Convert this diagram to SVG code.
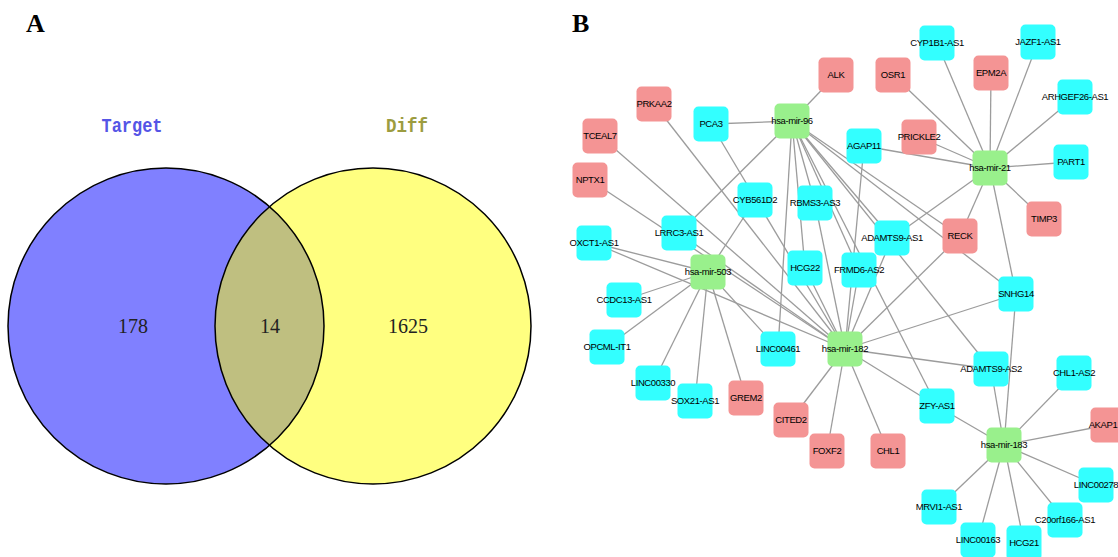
<svg xmlns="http://www.w3.org/2000/svg" width="1118" height="557" viewBox="0 0 1118 557">
<style>
.panel{font-family:"Liberation Serif","Times New Roman",serif;font-weight:bold;font-size:26px;fill:#000}
.num{font-family:"Liberation Serif","Times New Roman",serif;font-size:20px;fill:#222;text-anchor:middle}
.setlbl{font-family:"Liberation Mono","Courier New",monospace;font-size:20px;font-weight:bold;text-anchor:middle}
.edge line{stroke:#9c9c9c;stroke-width:1.3}
.node rect{width:35px;height:35px}
.lnc rect{fill:#33ffff}
.mrna rect{fill:#f49494}
.mir rect{fill:#99f08c}
.node text{font-family:"Liberation Sans",Arial,sans-serif;font-size:9.5px;letter-spacing:-0.4px;fill:#000;text-anchor:middle}
</style>
<rect width="1118" height="557" fill="#ffffff"/>

<!-- Panel A -->
<text class="panel" x="26" y="32">A</text>
<g id="venn">
<circle cx="166" cy="326" r="158" fill="#8080ff"/>
<circle cx="373" cy="326" r="158" fill="#ffff80"/>
<path d="M269.5 206.6 A158 158 0 0 1 269.5 445.4 A158 158 0 0 1 269.5 206.6 Z" fill="#bfbf80"/>
<circle cx="166" cy="326" r="158" fill="none" stroke="#000" stroke-width="1.5"/>
<circle cx="373" cy="326" r="158" fill="none" stroke="#000" stroke-width="1.5"/>
<text class="setlbl" x="132" y="132" fill="#5555e6" textLength="61" lengthAdjust="spacingAndGlyphs">Target</text>
<text class="setlbl" x="407" y="132" fill="#9c9c40" textLength="42" lengthAdjust="spacingAndGlyphs">Diff</text>
<text class="num" x="133" y="333">178</text>
<text class="num" x="270" y="333">14</text>
<text class="num" x="408" y="333">1625</text>
</g>

<!-- Panel B -->
<text class="panel" x="572" y="32">B</text>
<g id="connectors" class="edge">
<!-- hsa-mir-96 -->
<line x1="792" y1="121" x2="836" y2="75"/>
<line x1="792" y1="121" x2="711" y2="124"/>
<line x1="792" y1="121" x2="679" y2="233"/>
<line x1="792" y1="121" x2="778" y2="349"/>
<line x1="792" y1="121" x2="805" y2="268"/>
<line x1="792" y1="121" x2="815" y2="203"/>
<line x1="792" y1="121" x2="859" y2="270"/>
<line x1="792" y1="121" x2="937" y2="406"/>
<line x1="792" y1="121" x2="892" y2="238"/>
<line x1="792" y1="121" x2="991" y2="369"/>
<line x1="792" y1="121" x2="960" y2="236"/>
<line x1="792" y1="121" x2="1016" y2="294"/>
<!-- hsa-mir-21 -->
<line x1="990" y1="168" x2="937" y2="43"/>
<line x1="990" y1="168" x2="1038" y2="42"/>
<line x1="990" y1="168" x2="991" y2="73"/>
<line x1="990" y1="168" x2="893" y2="75"/>
<line x1="990" y1="168" x2="1075" y2="97"/>
<line x1="990" y1="168" x2="919" y2="137"/>
<line x1="990" y1="168" x2="864" y2="146"/>
<line x1="990" y1="168" x2="1071" y2="162"/>
<line x1="990" y1="168" x2="1044" y2="219"/>
<line x1="990" y1="168" x2="960" y2="236"/>
<line x1="990" y1="168" x2="1016" y2="294"/>
<line x1="990" y1="168" x2="892" y2="238"/>
<!-- hsa-mir-503 -->
<line x1="708" y1="272" x2="594" y2="243"/>
<line x1="708" y1="272" x2="624" y2="300"/>
<line x1="708" y1="272" x2="607" y2="347"/>
<line x1="708" y1="272" x2="653" y2="383"/>
<line x1="708" y1="272" x2="695" y2="401"/>
<line x1="708" y1="272" x2="746" y2="398"/>
<line x1="708" y1="272" x2="778" y2="349"/>
<line x1="708" y1="272" x2="755" y2="200"/>
<!-- hsa-mir-182 -->
<line x1="845" y1="349" x2="654" y2="104"/>
<line x1="845" y1="349" x2="600" y2="136"/>
<line x1="845" y1="349" x2="590" y2="180"/>
<line x1="845" y1="349" x2="679" y2="233"/>
<line x1="845" y1="349" x2="594" y2="243"/>
<line x1="845" y1="349" x2="711" y2="124"/>
<line x1="845" y1="349" x2="815" y2="203"/>
<line x1="845" y1="349" x2="805" y2="268"/>
<line x1="845" y1="349" x2="859" y2="270"/>
<line x1="845" y1="349" x2="864" y2="146"/>
<line x1="845" y1="349" x2="892" y2="238"/>
<line x1="845" y1="349" x2="960" y2="236"/>
<line x1="845" y1="349" x2="1016" y2="294"/>
<line x1="845" y1="349" x2="991" y2="369"/>
<line x1="845" y1="349" x2="937" y2="406"/>
<line x1="845" y1="349" x2="888" y2="451"/>
<line x1="845" y1="349" x2="827" y2="451"/>
<line x1="845" y1="349" x2="791" y2="420"/>
<!-- hsa-mir-183 -->
<line x1="1004" y1="445" x2="937" y2="406"/>
<line x1="1004" y1="445" x2="991" y2="369"/>
<line x1="1004" y1="445" x2="1016" y2="294"/>
<line x1="1004" y1="445" x2="1074" y2="373"/>
<line x1="1004" y1="445" x2="1108" y2="425"/>
<line x1="1004" y1="445" x2="1096" y2="485"/>
<line x1="1004" y1="445" x2="1065" y2="520"/>
<line x1="1004" y1="445" x2="1024" y2="543"/>
<line x1="1004" y1="445" x2="978" y2="540"/>
<line x1="1004" y1="445" x2="939" y2="507"/>
</g>

<!-- miRNA nodes -->
<g id="hsa-mir-96" class="node mir"><rect x="774.5" y="103.5" rx="5"/><text x="792" y="124">hsa-mir-96</text></g>
<g id="hsa-mir-21" class="node mir"><rect x="972.5" y="150.5" rx="5"/><text x="990" y="171">hsa-mir-21</text></g>
<g id="hsa-mir-503" class="node mir"><rect x="690.5" y="254.5" rx="5"/><text x="708" y="275">hsa-mir-503</text></g>
<g id="hsa-mir-182" class="node mir"><rect x="827.5" y="331.5" rx="5"/><text x="845" y="352">hsa-mir-182</text></g>
<g id="hsa-mir-183" class="node mir"><rect x="986.5" y="427.5" rx="5"/><text x="1004" y="448">hsa-mir-183</text></g>

<!-- lncRNA nodes -->
<g id="PCA3" class="node lnc"><rect x="693.5" y="106.5" rx="5"/><text x="711" y="127">PCA3</text></g>
<g id="CYP1B1-AS1" class="node lnc"><rect x="919.5" y="25.5" rx="5"/><text x="937" y="46">CYP1B1-AS1</text></g>
<g id="JAZF1-AS1" class="node lnc"><rect x="1020.5" y="24.5" rx="5"/><text x="1038" y="45">JAZF1-AS1</text></g>
<g id="ARHGEF26-AS1" class="node lnc"><rect x="1057.5" y="79.5" rx="5"/><text x="1075" y="100">ARHGEF26-AS1</text></g>
<g id="AGAP11" class="node lnc"><rect x="846.5" y="128.5" rx="5"/><text x="864" y="149">AGAP11</text></g>
<g id="PART1" class="node lnc"><rect x="1053.5" y="144.5" rx="5"/><text x="1071" y="165">PART1</text></g>
<g id="CYB561D2" class="node lnc"><rect x="737.5" y="182.5" rx="5"/><text x="755" y="203">CYB561D2</text></g>
<g id="RBMS3-AS3" class="node lnc"><rect x="797.5" y="185.5" rx="5"/><text x="815" y="206">RBMS3-AS3</text></g>
<g id="LRRC3-AS1" class="node lnc"><rect x="661.5" y="215.5" rx="5"/><text x="679" y="236">LRRC3-AS1</text></g>
<g id="OXCT1-AS1" class="node lnc"><rect x="576.5" y="225.5" rx="5"/><text x="594" y="246">OXCT1-AS1</text></g>
<g id="ADAMTS9-AS1" class="node lnc"><rect x="874.5" y="220.5" rx="5"/><text x="892" y="241">ADAMTS9-AS1</text></g>
<g id="HCG22" class="node lnc"><rect x="787.5" y="250.5" rx="5"/><text x="805" y="271">HCG22</text></g>
<g id="FRMD6-AS2" class="node lnc"><rect x="841.5" y="252.5" rx="5"/><text x="859" y="273">FRMD6-AS2</text></g>
<g id="SNHG14" class="node lnc"><rect x="998.5" y="276.5" rx="5"/><text x="1016" y="297">SNHG14</text></g>
<g id="CCDC13-AS1" class="node lnc"><rect x="606.5" y="282.5" rx="5"/><text x="624" y="303">CCDC13-AS1</text></g>
<g id="OPCML-IT1" class="node lnc"><rect x="589.5" y="329.5" rx="5"/><text x="607" y="350">OPCML-IT1</text></g>
<g id="LINC00461" class="node lnc"><rect x="760.5" y="331.5" rx="5"/><text x="778" y="352">LINC00461</text></g>
<g id="ADAMTS9-AS2" class="node lnc"><rect x="973.5" y="351.5" rx="5"/><text x="991" y="372">ADAMTS9-AS2</text></g>
<g id="CHL1-AS2" class="node lnc"><rect x="1056.5" y="355.5" rx="5"/><text x="1074" y="376">CHL1-AS2</text></g>
<g id="LINC00330" class="node lnc"><rect x="635.5" y="365.5" rx="5"/><text x="653" y="386">LINC00330</text></g>
<g id="SOX21-AS1" class="node lnc"><rect x="677.5" y="383.5" rx="5"/><text x="695" y="404">SOX21-AS1</text></g>
<g id="ZFY-AS1" class="node lnc"><rect x="919.5" y="388.5" rx="5"/><text x="937" y="409">ZFY-AS1</text></g>
<g id="LINC00278" class="node lnc"><rect x="1078.5" y="467.5" rx="5"/><text x="1096" y="488">LINC00278</text></g>
<g id="MRVI1-AS1" class="node lnc"><rect x="921.5" y="489.5" rx="5"/><text x="939" y="510">MRVI1-AS1</text></g>
<g id="C20orf166-AS1" class="node lnc"><rect x="1047.5" y="502.5" rx="5"/><text x="1065" y="523">C20orf166-AS1</text></g>
<g id="LINC00163" class="node lnc"><rect x="960.5" y="522.5" rx="5"/><text x="978" y="543">LINC00163</text></g>
<g id="HCG21" class="node lnc"><rect x="1006.5" y="525.5" rx="5"/><text x="1024" y="546">HCG21</text></g>

<!-- mRNA nodes -->
<g id="ALK" class="node mrna"><rect x="818.5" y="57.5" rx="5"/><text x="836" y="78">ALK</text></g>
<g id="OSR1" class="node mrna"><rect x="875.5" y="57.5" rx="5"/><text x="893" y="78">OSR1</text></g>
<g id="EPM2A" class="node mrna"><rect x="973.5" y="55.5" rx="5"/><text x="991" y="76">EPM2A</text></g>
<g id="PRKAA2" class="node mrna"><rect x="636.5" y="86.5" rx="5"/><text x="654" y="107">PRKAA2</text></g>
<g id="TCEAL7" class="node mrna"><rect x="582.5" y="118.5" rx="5"/><text x="600" y="139">TCEAL7</text></g>
<g id="PRICKLE2" class="node mrna"><rect x="901.5" y="119.5" rx="5"/><text x="919" y="140">PRICKLE2</text></g>
<g id="NPTX1" class="node mrna"><rect x="572.5" y="162.5" rx="5"/><text x="590" y="183">NPTX1</text></g>
<g id="TIMP3" class="node mrna"><rect x="1026.5" y="201.5" rx="5"/><text x="1044" y="222">TIMP3</text></g>
<g id="RECK" class="node mrna"><rect x="942.5" y="218.5" rx="5"/><text x="960" y="239">RECK</text></g>
<g id="GREM2" class="node mrna"><rect x="728.5" y="380.5" rx="5"/><text x="746" y="401">GREM2</text></g>
<g id="CITED2" class="node mrna"><rect x="773.5" y="402.5" rx="5"/><text x="791" y="423">CITED2</text></g>
<g id="FOXF2" class="node mrna"><rect x="809.5" y="433.5" rx="5"/><text x="827" y="454">FOXF2</text></g>
<g id="CHL1" class="node mrna"><rect x="870.5" y="433.5" rx="5"/><text x="888" y="454">CHL1</text></g>
<g id="AKAP1" class="node mrna"><rect x="1090.5" y="407.5" rx="5"/><text x="1103" y="428">AKAP1</text></g>
</svg>
